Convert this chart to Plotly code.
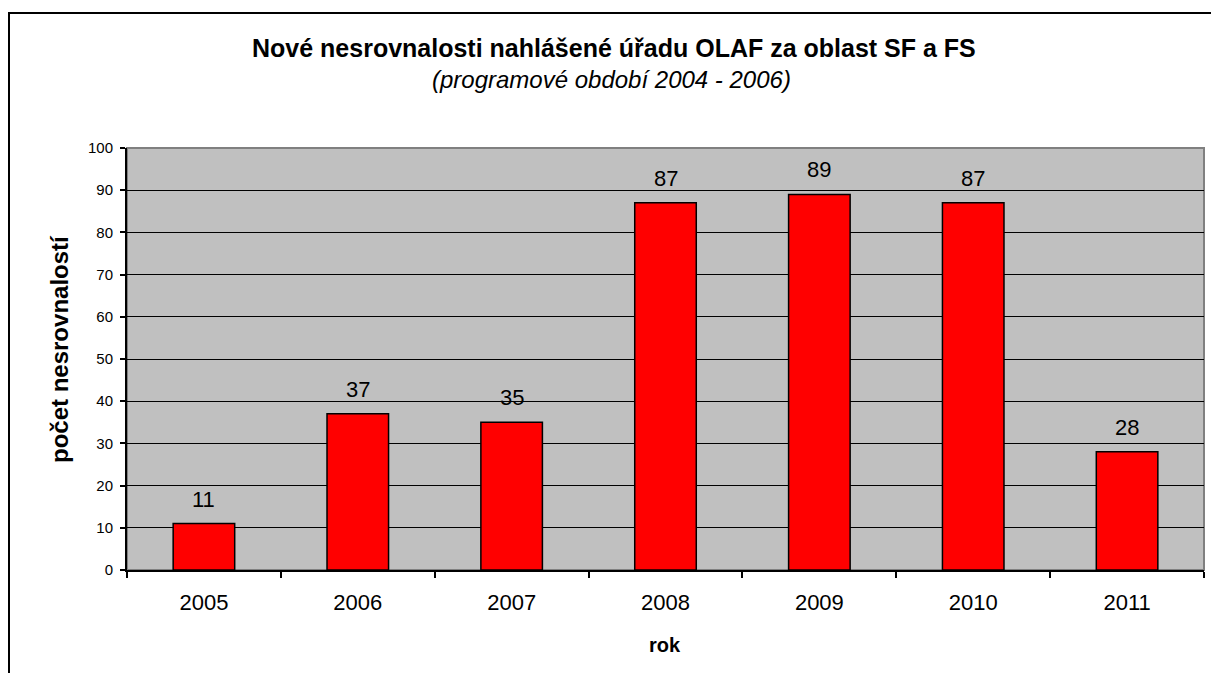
import plotly.graph_objects as go

years = ["2005", "2006", "2007", "2008", "2009", "2010", "2011"]
counts = [11, 37, 35, 87, 89, 87, 28]
y_ticks = [0, 10, 20, 30, 40, 50, 60, 70, 80, 90, 100]

title_text = "Nové nesrovnalosti nahlášené úřadu OLAF za oblast SF a FS"
subtitle_text = "(programové období 2004 - 2006)"
y_title = "počet nesrovnalostí"
x_title = "rok"

FONT = "Liberation Sans, Arial, sans-serif"

# page body has an 8px margin; figure coordinates below are screen minus 8
PL, PR, PT, PB = 127, 1204, 148, 570  # plot area in screen pixels
PW, PH = PR - PL, PB - PT


def px(x):
    return (x - PL) / PW


def py(y):
    return (PB - y) / PH


fig = go.Figure()
fig.add_trace(go.Bar(
    x=years, y=counts,
    marker=dict(color="#FF0000", line=dict(color="black", width=1.5)),
    hoverinfo="skip",
))

for i, v in enumerate(counts):
    fig.add_annotation(x=i, y=v, text=str(v), showarrow=False,
                       yanchor="bottom", yshift=10,
                       font=dict(family=FONT, size=22, color="black"))

# titles
common = dict(xref="paper", yref="paper", showarrow=False, xanchor="center", yanchor="middle")
fig.add_annotation(x=px(614), y=py(48), text="<b>" + title_text + "</b>",
                   font=dict(family=FONT, size=25, color="black"), **common)
fig.add_annotation(x=px(611), y=py(79), text="<i>" + subtitle_text + "</i>",
                   font=dict(family=FONT, size=24, color="black"), **common)
fig.add_annotation(x=px(59), y=py(349), text="<b>" + y_title + "</b>", textangle=-90,
                   font=dict(family=FONT, size=24, color="black"), **common)
fig.add_annotation(x=px(665), y=py(645), text="<b>" + x_title + "</b>",
                   font=dict(family=FONT, size=20, color="black"), **common)

# plot-area border (gray) and outer frame
fig.add_shape(type="rect", xref="paper", yref="paper", x0=0, x1=1, y0=0, y1=1,
              line=dict(color="#808080", width=2), layer="below")
fig.add_shape(type="rect", xref="paper", yref="paper",
              x0=px(9), x1=1.1, y0=-0.5, y1=py(13),
              line=dict(color="black", width=2))

fig.update_layout(
    width=1211, height=665,
    margin=dict(l=PL - 8, r=1219 - PR, t=PT - 8, b=673 - PB),
    paper_bgcolor="white", plot_bgcolor="#C0C0C0",
    bargap=0.6, showlegend=False,
    font=dict(family=FONT, color="black"),
)
fig.update_xaxes(
    type="category", range=[-0.5, 6.5], tickson="boundaries", ticks="outside", ticklen=6,
    tickcolor="black", tickwidth=2, showline=True, linecolor="black", linewidth=2,
    showgrid=False, tickfont=dict(size=22), ticklabelstandoff=12,
)
fig.update_yaxes(
    range=[0, 100], tickvals=y_ticks, ticks="outside", ticklen=5,
    tickcolor="black", tickwidth=2, showline=True, linecolor="black", linewidth=2,
    showgrid=True, gridcolor="black", gridwidth=1, zeroline=False,
    tickfont=dict(size=15), ticklabelstandoff=4,
)

fig.write_html("out.html")
